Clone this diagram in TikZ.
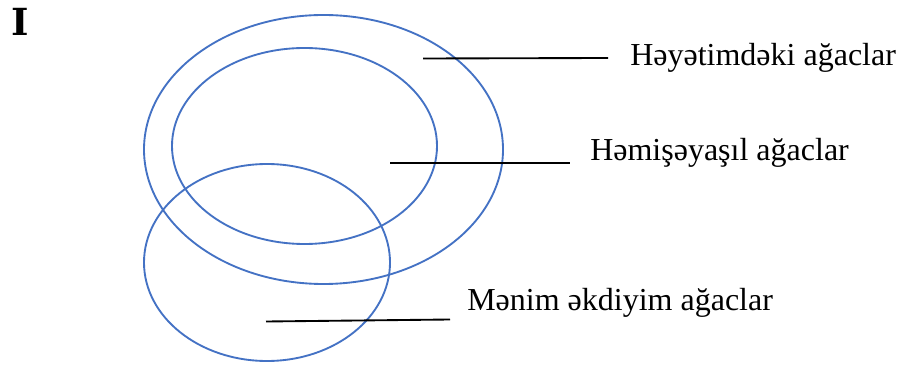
\documentclass[tikz,border=0pt]{standalone}
\usepackage{fontspec}
\setmainfont{Liberation Serif}
\newfontfamily\slabfont{DejaVu Serif}
\definecolor{vennblue}{HTML}{4472C4}
\begin{document}
\begin{tikzpicture}[x=0.75pt,y=-0.75pt,
    venn/.style={draw=vennblue,line width=1.4pt},
    pointer/.style={draw=black,line width=1.4pt},
    setlabel/.style={anchor=west,inner sep=0pt,font=\fontsize{24}{28}\selectfont}]
  \useasboundingbox (0,0) rectangle (902,366);
  \node[inner sep=0pt,font=\slabfont\bfseries\fontsize{28}{32}\selectfont] (num) at (20,21.5) {I};
  % the three sets
  \draw[venn] (323.5,149.5) ellipse [x radius=179.5, y radius=134.5];
  \draw[venn] (304.5,146) ellipse [x radius=132.5, y radius=98];
  \draw[venn] (267,262.5) ellipse [x radius=123, y radius=98.5];
  % labels
  \node[setlabel] (yard) at (630,58) {Həyətimdəki ağaclar};
  \node[setlabel] (green) at (590,153) {Həmişəyaşıl ağaclar};
  \node[setlabel] (mine) at (467,303) {Mənim əkdiyim ağaclar};
  \coordinate (yardA) at (423,58.5);
  \coordinate (yardB) at (608,58);
  \coordinate (greenA) at (390,163);
  \coordinate (greenB) at (570,163);
  \coordinate (mineA) at (266,321.5);
  \coordinate (mineB) at (450,319.5);
  \draw[pointer] (yardA) -- (yardB);
  \draw[pointer] (greenA) -- (greenB);
  \draw[pointer] (mineA) -- (mineB);
\end{tikzpicture}
\end{document}
